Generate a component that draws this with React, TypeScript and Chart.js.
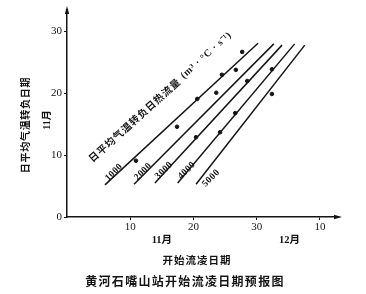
import React, { useEffect, useRef } from "react";
import { Chart, registerables } from "chart.js";

Chart.register(...registerables);

// Heat-flux lines (m³·°C·s⁻¹) and their end points (day of November, Y date)
const heatFlux = [1000, 2000, 3000, 4000, 5000];
const lineStartX = [6.0, 10.6, 13.9, 17.5, 20.4];
const lineStartY = [5.2, 5.3, 5.5, 5.5, 5.3];
const lineEndX = [30.2, 32.7, 34.0, 36.0, 37.6];
const lineEndY = [28.1, 28.0, 27.8, 28.0, 27.8];

// Observed points
const obsX = [10.9, 17.4, 20.6, 20.4, 23.6, 24.5, 24.2, 26.6, 26.7, 27.7, 28.5, 32.4, 32.4];
const obsY = [9.1, 14.6, 19.1, 12.9, 20.1, 23.0, 13.7, 16.8, 23.8, 26.7, 22.0, 23.9, 19.9];

// Ticks
const xTickValues = [10, 20, 30, 40];
const xTickLabels = ["10", "20", "30", "10"];
const yTickValues = [0, 10, 20, 30];
const yTickLabels = ["0", "10", "20", "30"];

const xMonthLabels = ["11月", "12月"];
const xMonthAt = [15, 35.2];
const xTitle = "开始流凌日期";
const yTitle = "日平均气温转负日期";
const yMonth = "11月";
const diagTitle = "日平均气温转负日热流量";
const diagUnit = "(m³ · °C · s⁻¹)";
const caption = "黄河石嘴山站开始流凌日期预报图";

const INK = "#141414";
const CJK = "'Noto Sans CJK SC', sans-serif";
const SERIF = "'Liberation Serif', 'Noto Sans CJK SC', serif";

const decor = {
  id: "decor",
  afterDraw(chart: any) {
    const ctx = chart.ctx as CanvasRenderingContext2D;
    const xs = chart.scales.x;
    const ys = chart.scales.y;
    const area = chart.chartArea;
    ctx.save();
    ctx.fillStyle = INK;
    ctx.strokeStyle = INK;

    // arrows
    ctx.beginPath();
    ctx.moveTo(area.left, area.top - 4);
    ctx.lineTo(area.left - 2.2, area.top + 4);
    ctx.lineTo(area.left + 2.2, area.top + 4);
    ctx.closePath();
    ctx.fill();
    ctx.beginPath();
    ctx.moveTo(area.right + 4, area.bottom);
    ctx.lineTo(area.right - 4, area.bottom - 2.2);
    ctx.lineTo(area.right - 4, area.bottom + 2.2);
    ctx.closePath();
    ctx.fill();

    const setSpacing = (s: string) => {
      (ctx as any).letterSpacing = s;
    };

    // y title (rotated)
    ctx.textAlign = "center";
    ctx.textBaseline = "middle";
    ctx.save();
    ctx.translate(25, 125);
    ctx.rotate(-Math.PI / 2);
    ctx.font = `bold 10px ${CJK}`;
    setSpacing("0.7px");
    ctx.fillText(yTitle, 0, 0);
    ctx.restore();

    ctx.save();
    ctx.translate(47, 120);
    ctx.rotate(-Math.PI / 2);
    ctx.font = `bold 10px ${SERIF}`;
    setSpacing("0px");
    ctx.fillText(yMonth, 0, 0);
    ctx.restore();

    // month labels under x axis
    ctx.font = `bold 10.5px ${SERIF}`;
    setSpacing("0px");
    xMonthLabels.forEach((t, i) => {
      ctx.fillText(t, xs.getPixelForValue(xMonthAt[i]), 240);
    });

    // x title
    ctx.font = `bold 10.5px ${CJK}`;
    setSpacing("1px");
    ctx.fillText(xTitle, 197, 260);

    // caption
    ctx.font = `bold 12px ${CJK}`;
    setSpacing("1.3px");
    ctx.fillText(caption, 185, 281);

    // diagonal title
    ctx.save();
    ctx.translate(90, 160);
    ctx.rotate((-42 * Math.PI) / 180);
    ctx.textAlign = "left";
    ctx.font = `bold 10px ${CJK}`;
    setSpacing("0.9px");
    ctx.fillText(diagTitle, 0, 0);
    ctx.font = `bold 10px ${SERIF}`;
    setSpacing("0.6px");
    ctx.fillText(diagUnit, 124, 0);
    ctx.restore();

    // line labels
    ctx.font = `bold 9.5px ${SERIF}`;
    setSpacing("0.4px");
    heatFlux.forEach((v, i) => {
      const px = xs.getPixelForValue(lineStartX[i]);
      const py = ys.getPixelForValue(lineStartY[i]);
      const dx = i === heatFlux.length - 1 ? 15 : 9;
      const dy = i === heatFlux.length - 1 ? -6 : -12.5;
      ctx.save();
      ctx.translate(px + dx, py + dy);
      ctx.rotate((-45 * Math.PI) / 180);
      ctx.textAlign = "center";
      ctx.fillText(String(v), 0, 0);
      ctx.restore();
    });

    ctx.restore();
  },
};

export default function App() {
  const ref = useRef<HTMLCanvasElement>(null);
  useEffect(() => {
    if (!ref.current) return;
    const lineSets = heatFlux.map((v, i) => ({
      type: "line" as const,
      label: String(v),
      data: [
        { x: lineStartX[i], y: lineStartY[i] },
        { x: lineEndX[i], y: lineEndY[i] },
      ],
      borderColor: INK,
      borderWidth: 1.5,
      pointRadius: 0,
      fill: false,
    }));
    const chart = new Chart(ref.current, {
      type: "scatter",
      data: {
        datasets: [
          ...lineSets,
          {
            type: "scatter" as const,
            label: "obs",
            data: obsX.map((x, i) => ({ x, y: obsY[i] })),
            backgroundColor: INK,
            borderColor: INK,
            pointRadius: 1.8,
          },
        ] as any,
      },
      options: {
        responsive: false,
        animation: false,
        layout: { padding: { left: 0, right: 28, top: 10, bottom: 0 } },
        plugins: { legend: { display: false }, tooltip: { enabled: false } },
        scales: {
          x: {
            type: "linear",
            min: 0,
            max: 42.85,
            afterFit: (s: any) => {
              s.height = 77;
            },
            afterBuildTicks: (s: any) => {
              s.ticks = xTickValues.map((value) => ({ value }));
            },
            border: { display: true, color: INK, width: 1.5 },
            grid: { display: true, drawOnChartArea: false, drawTicks: true, tickLength: 3, color: INK },
            ticks: {
              color: INK,
              padding: 1,
              maxRotation: 0,
              font: { family: "'Liberation Serif', serif", size: 11 },
              callback: (v: any) => {
                const k = xTickValues.indexOf(Number(v));
                return k >= 0 ? xTickLabels[k] : "";
              },
            },
          },
          y: {
            type: "linear",
            min: 0,
            max: 33.48,
            afterFit: (s: any) => {
              s.width = 67;
            },
            afterBuildTicks: (s: any) => {
              s.ticks = yTickValues.map((value) => ({ value }));
            },
            border: { display: true, color: INK, width: 1.5 },
            grid: { display: true, drawOnChartArea: false, drawTicks: true, tickLength: 3, color: INK },
            ticks: {
              color: INK,
              padding: 2,
              font: { family: "'Liberation Serif', serif", size: 11 },
              callback: (v: any) => {
                const k = yTickValues.indexOf(Number(v));
                return k >= 0 ? yTickLabels[k] : "";
              },
            },
          },
        },
      },
      plugins: [decor],
    } as any);
    return () => chart.destroy();
  }, []);
  return (
    <div style={{ position: "fixed", left: 0, top: 0, width: 366, height: 294, background: "#fff" }}>
      <canvas ref={ref} width={366} height={294} style={{ width: 366, height: 294, display: "block" }} />
    </div>
  );
}
